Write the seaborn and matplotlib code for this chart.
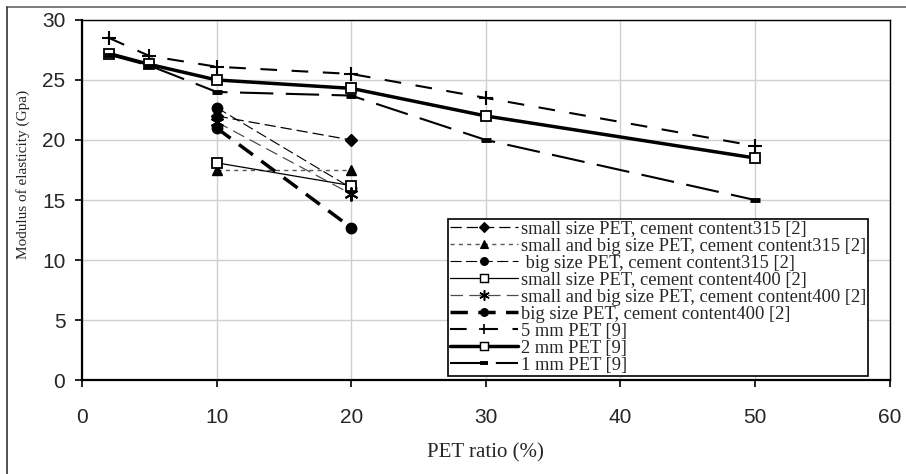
import matplotlib
matplotlib.use('Agg')
import matplotlib.pyplot as plt
from matplotlib.lines import Line2D
import numpy as np
import pandas as pd
import seaborn as sns

sns.set_style('white')

# %%
'''Data'''

x_ref2 = [10, 20]
small_315 = [22.0, 20.0]
small_big_315 = [17.5, 17.5]
big_315 = [22.7, 16.0]
small_400 = [18.1, 16.2]
small_big_400 = [21.5, 15.5]
big_400 = [21.0, 12.7]

x_ref9 = [2, 5, 10, 20, 30, 50]
pet_5mm = [28.5, 27.0, 26.1, 25.5, 23.5, 19.5]
pet_2mm = [27.2, 26.3, 25.0, 24.3, 22.0, 18.5]
pet_1mm = [27.1, 26.2, 24.0, 23.7, 20.0, 15.0]

labels = ['small size PET, cement content315 [2]',
          'small and big size PET, cement content315 [2]',
          ' big size PET, cement content315 [2]',
          'small size PET, cement content400 [2]',
          'small and big size PET, cement content400 [2]',
          'big size PET, cement content400 [2]',
          '5 mm PET [9]',
          '2 mm PET [9]',
          '1 mm PET [9]']

series = [(x_ref2, small_315), (x_ref2, small_big_315), (x_ref2, big_315),
          (x_ref2, small_400), (x_ref2, small_big_400), (x_ref2, big_400),
          (x_ref9, pet_5mm), (x_ref9, pet_2mm), (x_ref9, pet_1mm)]

# style per series: line color, width, dashes, marker, marker size, marker face
styles = [
    dict(color='black', lw=0.9, dashes=(9, 4), marker='D', ms=6.5, mfc='black', mew=1.0),
    dict(color='0.35', lw=1.0, dashes=(3, 3), marker='^', ms=7.5, mfc='black', mew=1.0),
    dict(color='black', lw=0.8, dashes=(10, 4), marker='o', ms=7.5, mfc='black', mew=1.0),
    dict(color='black', lw=0.9, dashes=None, marker='s', ms=7, mfc='white', mew=1.3),
    dict(color='0.3', lw=0.9, dashes=(10, 5), marker=(6, 2, 0), ms=10, mfc='black', mew=1.4),
    dict(color='black', lw=2.5, dashes=(5, 3), marker='o', ms=7.5, mfc='black', mew=1.0),
    dict(color='black', lw=1.5, dashes=(8, 7), marker='+', ms=10, mfc='black', mew=1.5),
    dict(color='black', lw=2.5, dashes=None, marker='s', ms=7, mfc='white', mew=1.3),
    dict(color='black', lw=1.5, dashes=(16, 6), marker='_', ms=7, mfc='black', mew=3.5),
]

# %%
'''Plot'''

fig = plt.figure(figsize=(9.06, 4.74), dpi=100)
ax = fig.add_axes([0.0905, 0.198, 0.8915, 0.760])

handles = []
for (xs, ys), st, lab in zip(series, styles, labels):
    df = pd.DataFrame({'x': xs, 'y': ys})
    sns.lineplot(data=df, x='x', y='y', ax=ax, color=st['color'], lw=st['lw'],
                 sort=False, legend=False)
    line = ax.lines[-1]
    if st['dashes'] is not None:
        line.set_dashes(st['dashes'])
    else:
        line.set_linestyle('-')
    ax.plot(xs, ys, ls='none', marker=st['marker'], ms=st['ms'],
            mfc=st['mfc'], mec='black', mew=st['mew'])
    h = Line2D([], [], color=st['color'], lw=st['lw'], marker=st['marker'],
               ms=st['ms'] * 0.75, mfc=st['mfc'], mec='black', mew=st['mew'] * 0.8)
    if st['dashes'] is not None:
        h.set_dashes(st['dashes'])
    handles.append(h)

ax.set_xlim(0, 60)
ax.set_ylim(0, 30)
ax.set_xticks(range(0, 61, 10))
ax.set_yticks(range(0, 31, 5))
ax.grid(True, color='#d0d0d0', lw=1)
ax.tick_params(axis='both', which='both', direction='out', length=5, width=1.2,
               labelsize=15, color='black', bottom=True, left=True)
ax.tick_params(axis='x', pad=15)
ax.tick_params(axis='y', pad=7)
for lab in ax.get_xticklabels() + ax.get_yticklabels():
    lab.set_family('Liberation Sans')
for side in ['top', 'right']:
    ax.spines[side].set_linewidth(1.0)
for side in ['left', 'bottom']:
    ax.spines[side].set_linewidth(1.6)
for sp in ax.spines.values():
    sp.set_color('black')

ax.set_xlabel('PET ratio (%)', family='Liberation Serif', fontsize=15, labelpad=12)
ax.set_ylabel('Modulus of elasticity (Gpa)', family='Liberation Serif', fontsize=11)
ax.yaxis.set_label_coords(-0.064, 0.572)

leg = ax.legend(handles, labels, loc='upper left',
                bbox_to_anchor=(448 / 906, 1 - 219 / 474), bbox_transform=fig.transFigure,
                prop={'family': 'Liberation Serif', 'size': 13.3},
                frameon=True, fancybox=False, edgecolor='black', framealpha=1,
                handlelength=3.7, handletextpad=0.15, labelspacing=0.0,
                borderpad=0.1, borderaxespad=0)
leg.get_frame().set_linewidth(1.2)

# outer chart frame
fig.add_artist(Line2D([7 / 906, 1], [1 - 7 / 474, 1 - 7 / 474], color='0.4', lw=1.2))
fig.add_artist(Line2D([7 / 906, 7 / 906], [0, 1 - 7 / 474], color='0.2', lw=1.2))

fig.savefig('out.png', dpi=100)
